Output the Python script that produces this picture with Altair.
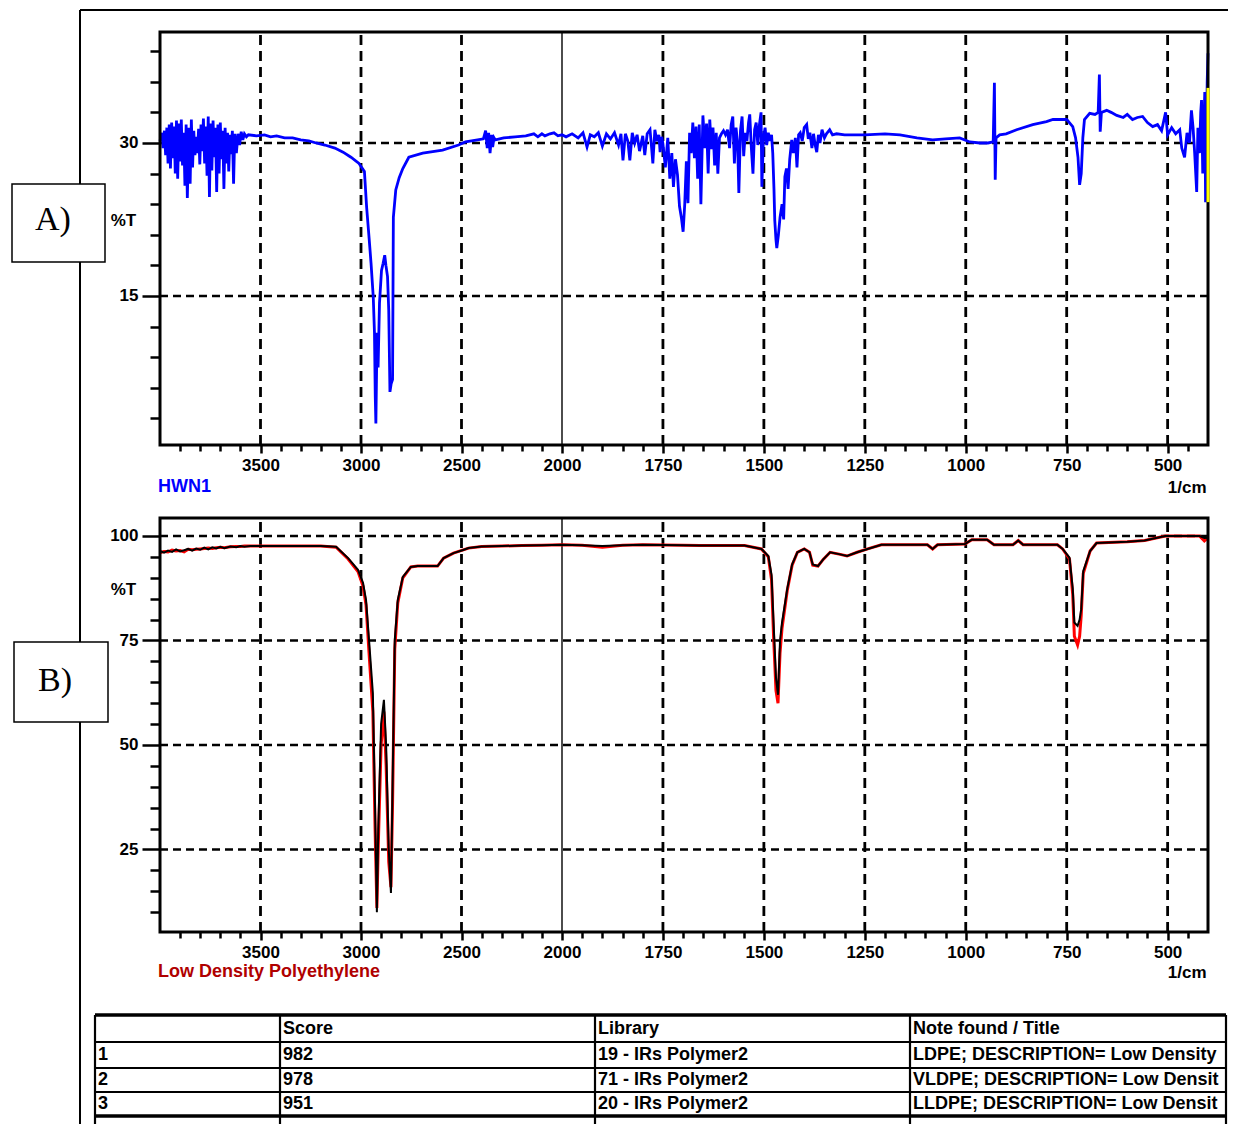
import altair as alt
import pandas as pd

W, H = 1220, 1116
FONT = "Liberation Sans"

# ---------------- x axis (wavenumber, 1/cm) ----------------
X_DOMAIN = [4000, 2000, 400]
X_MAJOR = [3500, 3000, 2500, 2000, 1750, 1500, 1250, 1000, 750, 500]
X_DASHED = [3500, 3000, 2500, 1750, 1500, 1250, 1000, 750, 500]
X_SOLID = [2000]
X_MINOR = [3900, 3800, 3700, 3600, 3400, 3300, 3200, 3100, 2900, 2800, 2700, 2600,
           2400, 2300, 2200, 2100, 1950, 1900, 1850, 1800, 1700, 1650, 1600, 1550,
           1450, 1400, 1350, 1300, 1200, 1150, 1100, 1050, 950, 900, 850, 800,
           700, 650, 600, 550, 450]

# ---------------- panel A (HWN1, %T) ----------------
A_DOMAIN = [0.39, 40.88]
A_MAJOR = [30, 15]
A_MINOR = [3, 6, 9, 12, 18, 21, 24, 27, 33, 36, 39]
A_NAME = ["HWN1"]
A_WN = [
    4000, 3990, 3985, 3978, 3972, 3966, 3960, 3954, 3948, 3942,
    3936, 3930, 3924, 3918, 3912, 3906, 3900, 3894, 3888, 3882,
    3876, 3870, 3864, 3856, 3850, 3844, 3838, 3832, 3826, 3820,
    3814, 3808, 3802, 3796, 3790, 3784, 3778, 3772, 3766, 3760,
    3754, 3748, 3742, 3736, 3730, 3724, 3718, 3712, 3706, 3700,
    3694, 3688, 3682, 3676, 3670, 3664, 3658, 3652, 3646, 3640,
    3634, 3628, 3620, 3612, 3604, 3596, 3588, 3580, 3570, 3560,
    3520, 3480, 3450, 3420, 3380, 3340, 3300, 3260, 3223, 3180,
    3130, 3089, 3050, 3010, 2983, 2972, 2959, 2950, 2939, 2933,
    2929, 2926, 2920, 2915, 2908, 2898, 2890, 2882, 2876, 2868,
    2862, 2856, 2850, 2843, 2839, 2827, 2810, 2792, 2762, 2693,
    2594, 2515, 2480, 2420, 2391, 2380, 2372, 2365, 2358, 2350,
    2345, 2338, 2332, 2290, 2233, 2180, 2140, 2120, 2100, 2085,
    2060, 2040, 2020, 2000, 1990, 1975, 1960, 1948, 1938, 1930,
    1920, 1910, 1900, 1890, 1880, 1870, 1860, 1854, 1849, 1843,
    1837, 1832, 1826, 1820, 1814, 1808, 1800, 1795, 1789, 1782,
    1778, 1775, 1770, 1765, 1760, 1757, 1753, 1750, 1744, 1738,
    1733, 1728, 1724, 1719, 1714, 1709, 1704, 1700, 1696, 1692,
    1688, 1684, 1680, 1676, 1672, 1668, 1664, 1660, 1656, 1651,
    1646, 1642, 1638, 1634, 1630, 1626, 1622, 1618, 1614, 1610,
    1605, 1600, 1595, 1590, 1585, 1581, 1577, 1573, 1569, 1565,
    1562, 1558, 1554, 1550, 1546, 1542, 1538, 1535, 1531, 1527,
    1523, 1519, 1515, 1511, 1507, 1505, 1501, 1497, 1493, 1489,
    1485, 1481, 1478, 1475, 1473, 1470, 1468, 1464, 1460, 1455,
    1451, 1448, 1444, 1440, 1436, 1431, 1427, 1422, 1418, 1414,
    1410, 1405, 1400, 1394, 1390, 1386, 1381, 1377, 1373, 1369,
    1365, 1361, 1356, 1350, 1345, 1337, 1330, 1320, 1300, 1250,
    1200, 1163, 1121, 1082, 1050, 1015, 990, 965, 945, 932,
    929, 927, 925, 916, 900, 874, 834, 800, 784, 750,
    735, 728, 722, 718, 714, 710, 706, 693, 680, 672,
    669, 667, 664, 651, 640, 626, 610, 600, 587, 575,
    562, 550, 537, 525, 515, 505, 500, 490, 480, 470,
    465, 458, 452, 446, 441, 437, 433, 428, 425, 421,
    418, 416, 413, 410, 408, 406, 404, 402, 400,
]
A_T = [
    30.2, 31.0, 29.5, 31.2, 28.8, 31.5, 28.0, 31.8, 27.5, 32.0,
    28.5, 31.6, 27.0, 32.2, 26.5, 31.9, 28.2, 32.3, 27.8, 31.0,
    25.8, 31.8, 24.6, 31.5, 26.0, 32.3, 27.6, 31.2, 28.8, 30.6,
    29.0, 31.4, 27.9, 31.8, 29.2, 32.4, 28.0, 31.6, 26.8, 32.6,
    24.7, 31.9, 27.3, 32.2, 28.6, 31.5, 25.2, 31.8, 27.0, 32.0,
    28.4, 31.2, 25.5, 31.5, 28.0, 31.0, 27.2, 30.8, 28.9, 31.2,
    26.0, 30.9, 29.0, 30.9, 29.8, 31.1, 30.3, 30.9, 30.6, 30.8,
    30.7, 30.8, 30.6, 30.7, 30.5, 30.5, 30.3, 30.2, 30.0, 29.8,
    29.5, 29.1, 28.6, 28.0, 27.2, 23.7, 20.5, 18.2, 14.9, 11.4,
    5.1, 2.5, 11.4, 8.0, 14.3, 17.5, 18.2, 19.0, 18.0, 16.9,
    13.6, 5.6, 6.4, 6.8, 22.7, 25.4, 26.6, 27.5, 28.6, 29.0,
    29.3, 29.8, 30.1, 30.3, 30.4, 31.2, 29.5, 31.0, 29.0, 30.8,
    29.6, 30.5, 30.3, 30.5, 30.6, 30.7, 30.9, 30.6, 30.9, 30.7,
    30.9, 31.0, 30.7, 30.8, 30.6, 30.9, 30.5, 31.0, 29.6, 30.8,
    30.6, 31.0, 29.7, 30.9, 30.4, 31.0, 29.8, 30.9, 28.3, 30.9,
    30.2, 28.3, 31.0, 30.0, 30.8, 29.2, 30.7, 28.8, 30.9, 31.3,
    29.5, 28.0, 31.3, 30.2, 30.8, 29.1, 30.6, 29.9, 27.6, 30.5,
    26.5, 29.0, 25.7, 28.4, 26.9, 23.8, 22.6, 21.3, 24.0, 28.2,
    24.1, 31.0, 29.0, 32.0, 28.5, 31.6, 26.5, 31.8, 24.0, 32.7,
    29.5, 31.9, 27.0, 32.3, 29.4, 31.5, 27.8, 31.0, 27.0, 30.5,
    30.9, 31.2, 30.8, 31.3, 29.5, 31.8, 32.6, 28.0, 31.5, 30.0,
    25.1, 31.2, 32.6, 28.7, 31.0, 30.2, 32.0, 32.8, 29.5, 27.0,
    31.3, 32.0, 29.8, 31.8, 33.0, 25.7, 30.5, 31.5, 29.8, 31.0,
    30.2, 30.8, 29.0, 25.5, 22.4, 20.5, 19.7, 21.0, 22.7, 24.0,
    22.5, 26.7, 27.5, 25.5, 28.4, 30.3, 29.0, 30.5, 27.6, 30.8,
    31.0, 30.2, 31.5, 31.8, 30.4, 31.0, 29.5, 30.9, 29.8, 29.1,
    30.8, 30.0, 31.3, 30.5, 30.9, 31.3, 30.8, 30.9, 30.8, 30.8,
    30.9, 30.8, 30.5, 30.3, 30.4, 30.5, 30.1, 30.0, 30.0, 30.1,
    35.9, 26.4, 30.5, 30.8, 30.9, 31.3, 31.8, 32.1, 32.3, 32.3,
    31.6, 30.5, 28.6, 25.9, 27.0, 30.5, 32.3, 32.9, 32.8, 33.0,
    36.7, 31.1, 33.0, 33.2, 33.0, 32.7, 32.5, 32.8, 32.3, 32.5,
    32.6, 32.0, 31.6, 31.8, 31.2, 33.0, 30.8, 31.5, 30.9, 31.3,
    29.5, 28.6, 31.0, 30.0, 33.2, 31.5, 29.0, 25.2, 31.5, 29.0,
    33.0, 34.2, 27.0, 32.0, 35.0, 24.2, 30.0, 36.0, 38.8,
]
# short yellow trace visible at the right edge of panel A
A_YELLOW_WN = [400]
A_YELLOW_LO = [24.2]
A_YELLOW_HI = [35.4]

# ---------------- panel B (library match, %T) ----------------
B_DOMAIN = [5.26, 104.3]
B_MAJOR = [100, 75, 50, 25]
B_MINOR = [10, 15, 20, 30, 35, 40, 45, 55, 60, 65, 70, 80, 85, 90, 95]
B_NAME = ["Low Density Polyethylene"]
B_WN = [
    4000, 3980, 3960, 3940, 3920, 3900, 3880, 3860, 3840, 3820,
    3800, 3780, 3760, 3740, 3720, 3700, 3680, 3650, 3620, 3600,
    3580, 3550, 3400, 3200, 3124, 3064, 3015, 2990, 2975, 2960,
    2941, 2930, 2921, 2914, 2900, 2886, 2875, 2862, 2851, 2843,
    2832, 2817, 2792, 2752, 2718, 2619, 2589, 2540, 2495, 2465,
    2400, 2300, 2200, 2100, 2000, 1950, 1900, 1850, 1800, 1700,
    1658, 1548, 1506, 1489, 1481, 1476, 1470, 1465, 1460, 1455,
    1442, 1430, 1417, 1400, 1387, 1379, 1366, 1353, 1336, 1311,
    1294, 1269, 1243, 1209, 1095, 1082, 1070, 1002, 985, 947,
    930, 883, 870, 858, 773, 760, 743, 735, 731, 723,
    718, 714, 709, 692, 676, 600, 557, 506, 421, 409,
    400,
]
B_BLACK = [
    96.4, 96.0, 96.5, 96.2, 96.8, 96.3, 96.6, 96.9, 96.5, 97.0,
    96.7, 97.2, 96.8, 97.3, 97.0, 97.4, 97.1, 97.5, 97.3, 97.6,
    97.4, 97.6, 97.6, 97.6, 97.4, 94.7, 91.9, 88.8, 84.7, 75.1,
    62.4, 35.0, 10.0, 30.0, 55.0, 60.8, 50.0, 25.0, 14.6, 40.0,
    75.1, 84.7, 90.2, 92.6, 92.8, 92.8, 94.7, 95.9, 96.6, 97.1,
    97.5, 97.6, 97.7, 97.8, 97.9, 97.8, 97.6, 97.8, 97.9, 97.8,
    97.7, 97.7, 96.9, 95.2, 90.7, 79.3, 66.1, 62.0, 75.0, 79.3,
    87.4, 93.2, 96.1, 96.9, 96.1, 93.2, 92.8, 94.4, 96.1, 95.6,
    95.2, 96.1, 96.9, 97.9, 97.9, 96.9, 97.9, 98.1, 99.1, 99.1,
    97.9, 97.9, 98.9, 97.9, 97.9, 96.9, 94.8, 87.4, 79.3, 78.5,
    80.0, 82.5, 91.6, 96.4, 98.3, 98.6, 98.9, 100.0, 100.0, 99.5,
    99.6,
]
B_RED = [
    96.0, 96.3, 96.2, 96.6, 96.4, 96.5, 96.2, 96.8, 96.7, 96.8,
    96.9, 97.0, 97.1, 97.0, 97.2, 97.3, 97.2, 97.4, 97.5, 97.5,
    97.6, 97.6, 97.6, 97.6, 97.3, 94.5, 91.5, 88.0, 83.5, 72.0,
    58.0, 30.0, 11.0, 26.0, 50.0, 58.0, 45.0, 22.0, 16.0, 36.0,
    73.0, 84.0, 90.0, 92.6, 92.8, 92.8, 94.7, 95.9, 96.6, 97.1,
    97.5, 97.6, 97.7, 97.8, 97.9, 97.8, 97.3, 97.8, 97.9, 97.8,
    97.7, 97.7, 96.9, 95.0, 89.5, 76.0, 63.0, 60.0, 72.0, 78.0,
    87.0, 93.0, 96.1, 96.9, 96.1, 93.0, 92.8, 94.4, 96.1, 95.6,
    95.2, 96.1, 96.9, 97.9, 97.9, 96.9, 97.9, 98.1, 99.1, 99.1,
    97.9, 97.9, 98.9, 97.9, 97.9, 96.9, 94.5, 86.0, 76.0, 73.9,
    76.0, 81.0, 91.0, 96.4, 98.3, 98.6, 98.9, 100.0, 100.0, 98.8,
    99.6,
]

# ---------------- search result table ----------------
T_HEADER = ["", "Score", "Library", "Note found / Title"]
T_RANK = ["1", "2", "3"]
T_SCORE = ["982", "978", "951"]
T_LIBRARY = ["19 - IRs Polymer2", "71 - IRs Polymer2", "20 - IRs Polymer2"]
T_TITLE = ["LDPE; DESCRIPTION= Low Density Polyethylene",
           "VLDPE; DESCRIPTION= Low Density Polyethylene",
           "LLDPE; DESCRIPTION= Low Density Polyethylene"]
T_COLS = [0, 1, 2, 3, 4]
T_ROWS = [0, 1, 2, 3, 4, 5]

PANEL_LABELS = ["A)", "B)"]

# ---------------- layout (pixel ranges of scales) ----------------
X_RANGE = [152, 554, 1200]
A_RANGE = [437, 24]
B_RANGE = [924, 510]
T_XRANGE = [87, 272, 587, 902, 1218]
T_YRANGE = [1007, 1034, 1060, 1084, 1108, 1134]


def xsc():
    return alt.Scale(domain=X_DOMAIN, range=X_RANGE, nice=False, zero=False)


def ysc(dom, rng):
    return alt.Scale(domain=dom, range=rng, nice=False, zero=False)


LAB = dict(labelFont=FONT, labelFontSize=17, labelFontWeight="bold",
           labelColor="black", labelOverlap=False, labelFlush=False)
TIT = dict(titleFont=FONT, titleFontSize=17, titleFontWeight="bold",
           titleColor="black", titleAngle=0, titleBaseline="middle")


def x_major_axis(bottom, title_dy):
    return alt.Axis(orient="bottom", offset=bottom - H, values=X_MAJOR, format="d",
                    domain=False, grid=False, tickSize=8, tickWidth=2.5,
                    tickColor="black", labelPadding=4, **LAB,
                    title="1/cm", titleX=1198, titleY=title_dy,
                    titleAlign="right", **TIT)


def x_minor_axis(bottom):
    return alt.Axis(orient="bottom", offset=bottom - H, values=X_MINOR,
                    domain=False, grid=False, labels=False, tickSize=6,
                    tickWidth=2.5, tickColor="black", title="")


def y_major_axis(values, title_y):
    return alt.Axis(orient="left", offset=-152, values=values, format="d",
                    domain=False, grid=False, tickSize=18, tickWidth=2.5,
                    tickColor="black", labelPadding=4, **LAB,
                    title="%T", titleX=-37, titleY=title_y, titleAlign="center", **TIT)


def y_minor_axis(values):
    return alt.Axis(orient="left", offset=-152, values=values, domain=False,
                    grid=False, labels=False, tickSize=10, tickWidth=2.5,
                    tickColor="black", title="")


def panel_base(ydom, yrng, bottom, ymaj, ymin, ytitle_y, xtitle_dy):
    ys = lambda: ysc(ydom, yrng)
    vgrid = pd.DataFrame({"wn": X_DASHED})
    vgrid["y0"] = ydom[0]
    vgrid["y1"] = ydom[1]
    vsolid = pd.DataFrame({"wn": X_SOLID})
    vsolid["y0"] = ydom[0]
    vsolid["y1"] = ydom[1]
    hgrid = pd.DataFrame({"v": ymaj})
    hgrid["x0"] = X_DOMAIN[0]
    hgrid["x1"] = X_DOMAIN[-1]
    frame = pd.DataFrame({"x0": [X_DOMAIN[0]], "x1": [X_DOMAIN[-1]],
                          "y0": [ydom[0]], "y1": [ydom[1]]})

    l_vgrid = alt.Chart(vgrid).mark_rule(color="black", strokeWidth=2.8,
                                         strokeDash=[10, 6]).encode(
        x=alt.X("wn:Q", scale=xsc(), axis=x_major_axis(bottom, xtitle_dy)),
        y=alt.Y("y0:Q", scale=ys(), axis=y_major_axis(ymaj, ytitle_y)),
        y2="y1:Q")
    l_vsolid = alt.Chart(vsolid).mark_rule(color="black", strokeWidth=1.4).encode(
        x=alt.X("wn:Q", scale=xsc(), axis=x_minor_axis(bottom)),
        y=alt.Y("y0:Q", scale=ys(), axis=y_minor_axis(ymin)),
        y2="y1:Q")
    l_hgrid = alt.Chart(hgrid).mark_rule(color="black", strokeWidth=2.4,
                                         strokeDash=[8, 5]).encode(
        x=alt.X("x0:Q", scale=xsc(), axis=None), x2="x1:Q",
        y=alt.Y("v:Q", scale=ys(), axis=None))
    l_frame = alt.Chart(frame).mark_rect(fillOpacity=0, stroke="black",
                                         strokeWidth=3).encode(
        x=alt.X("x0:Q", scale=xsc(), axis=None), x2="x1:Q",
        y=alt.Y("y0:Q", scale=ys(), axis=None), y2="y1:Q")
    return [l_vgrid, l_vsolid, l_hgrid], l_frame, ys


layers = []

# ---- decorations: page frame and panel tags ----
deco = pd.DataFrame({"k": [0]})
layers.append(alt.Chart(deco).mark_rule(color="black", strokeWidth=2).encode(
    x=alt.value(72), y=alt.value(2), y2=alt.value(H)))
layers.append(alt.Chart(deco).mark_rule(color="black", strokeWidth=2).encode(
    x=alt.value(72), x2=alt.value(W + 10), y=alt.value(2)))

# ---- panel A ----
nA = min(len(A_WN), len(A_T))
dfA = pd.DataFrame({"wn": A_WN[:nA], "t": A_T[:nA]})
gridA, frameA, ysA = panel_base(A_DOMAIN, A_RANGE, A_RANGE[0], A_MAJOR, A_MINOR, 212, 42)
layers += gridA
layers.append(alt.Chart(dfA).mark_line(color="#0000ff", strokeWidth=2.8).encode(
    x=alt.X("wn:Q", scale=xsc(), axis=None),
    y=alt.Y("t:Q", scale=ysA(), axis=None)))
layers.append(frameA)
dfY = pd.DataFrame({"wn": A_YELLOW_WN, "lo": A_YELLOW_LO, "hi": A_YELLOW_HI})
layers.append(alt.Chart(dfY).mark_rule(color="#ffff00", strokeWidth=3).encode(
    x=alt.X("wn:Q", scale=xsc(), axis=None),
    y=alt.Y("lo:Q", scale=ysA(), axis=None), y2="hi:Q"))
nameA = pd.DataFrame({"name": A_NAME, "wn": [X_DOMAIN[0]]})
layers.append(alt.Chart(nameA).mark_text(align="left", baseline="middle", dx=-2,
                                         color="#0000ff", font=FONT, fontSize=18,
                                         fontWeight="bold").encode(
    x=alt.X("wn:Q", scale=xsc(), axis=None), y=alt.value(479), text="name:N"))

# ---- panel B ----
nB = min(len(B_WN), len(B_BLACK), len(B_RED))
dfB = pd.DataFrame({"wn": B_WN[:nB], "black": B_BLACK[:nB], "red": B_RED[:nB]})
gridB, frameB, ysB = panel_base(B_DOMAIN, B_RANGE, B_RANGE[0], B_MAJOR, B_MINOR, 581, 40)
layers += gridB
layers.append(alt.Chart(dfB).mark_line(color="#ff0000", strokeWidth=3).encode(
    x=alt.X("wn:Q", scale=xsc(), axis=None),
    y=alt.Y("red:Q", scale=ysB(), axis=None)))
layers.append(alt.Chart(dfB).mark_line(color="black", strokeWidth=2).encode(
    x=alt.X("wn:Q", scale=xsc(), axis=None),
    y=alt.Y("black:Q", scale=ysB(), axis=None)))
layers.append(frameB)
nameB = pd.DataFrame({"name": B_NAME, "wn": [X_DOMAIN[0]]})
layers.append(alt.Chart(nameB).mark_text(align="left", baseline="middle", dx=-2,
                                         color="#b00000", font=FONT, fontSize=18,
                                         fontWeight="bold").encode(
    x=alt.X("wn:Q", scale=xsc(), axis=None), y=alt.value(964), text="name:N"))

# ---- panel tags A) / B) ----
tagA = pd.DataFrame({"label": [PANEL_LABELS[0]]})
tagB = pd.DataFrame({"label": [PANEL_LABELS[1]]})
layers.append(alt.Chart(tagA).mark_rect(fill="white", stroke="black", strokeWidth=1.5).encode(
    x=alt.value(4), x2=alt.value(97), y=alt.value(176), y2=alt.value(254)))
layers.append(alt.Chart(tagA).mark_text(font="Liberation Serif", fontSize=34,
                                        color="black", baseline="middle").encode(
    x=alt.value(45), y=alt.value(212), text="label:N"))
layers.append(alt.Chart(tagB).mark_rect(fill="white", stroke="black", strokeWidth=1.5).encode(
    x=alt.value(6), x2=alt.value(100), y=alt.value(634), y2=alt.value(714)))
layers.append(alt.Chart(tagB).mark_text(font="Liberation Serif", fontSize=34,
                                        color="black", baseline="middle").encode(
    x=alt.value(47), y=alt.value(673), text="label:N"))

# ---- table ----
def txs():
    return alt.Scale(domain=T_COLS, range=T_XRANGE, nice=False, zero=False)


def tys():
    return alt.Scale(domain=T_ROWS, range=T_YRANGE, nice=False, zero=False)


cells = []
for c, h in enumerate(T_HEADER):
    if h:
        cells.append({"r": 0, "c": c, "text": h})
for i in range(len(T_RANK)):
    for c, col in enumerate([T_RANK, T_SCORE, T_LIBRARY, T_TITLE]):
        cells.append({"r": i + 1, "c": c, "text": col[i]})
dfCells = pd.DataFrame(cells)

hthin = pd.DataFrame({"r": [1, 2, 3]})
hthin["c0"] = T_COLS[0]
hthin["c1"] = T_COLS[-1]
hthick = pd.DataFrame({"r": [0, 4]})
hthick["c0"] = T_COLS[0]
hthick["c1"] = T_COLS[-1]
vlines = pd.DataFrame({"c": T_COLS})
vlines["r0"] = T_ROWS[0]
vlines["r1"] = T_ROWS[-1]

layers.append(alt.Chart(vlines).mark_rule(color="black", strokeWidth=2.2).encode(
    x=alt.X("c:Q", scale=txs(), axis=None),
    y=alt.Y("r0:Q", scale=tys(), axis=None), y2="r1:Q"))
layers.append(alt.Chart(hthin).mark_rule(color="black", strokeWidth=2.2).encode(
    x=alt.X("c0:Q", scale=txs(), axis=None), x2="c1:Q",
    y=alt.Y("r:Q", scale=tys(), axis=None)))
layers.append(alt.Chart(hthick).mark_rule(color="black", strokeWidth=3.5).encode(
    x=alt.X("c0:Q", scale=txs(), axis=None), x2="c1:Q",
    y=alt.Y("r:Q", scale=tys(), axis=None)))
layers.append(alt.Chart(dfCells).transform_calculate(ym="datum.r + 0.5").mark_text(
    align="left", baseline="middle", dx=3, font=FONT, fontSize=18, fontWeight="bold",
    color="black", limit=309, ellipsis="\u200b").encode(
    x=alt.X("c:Q", scale=txs(), axis=None),
    y=alt.Y("ym:Q", scale=tys(), axis=None),
    text="text:N"))

chart = alt.layer(*layers).resolve_scale(
    x="independent", y="independent"
).properties(
    width=W, height=H, padding=0,
    autosize=alt.AutoSizeParams(type="none"),
).configure_view(stroke="transparent")

chart.save("out.html", embed_options={"renderer": "svg", "actions": False})
